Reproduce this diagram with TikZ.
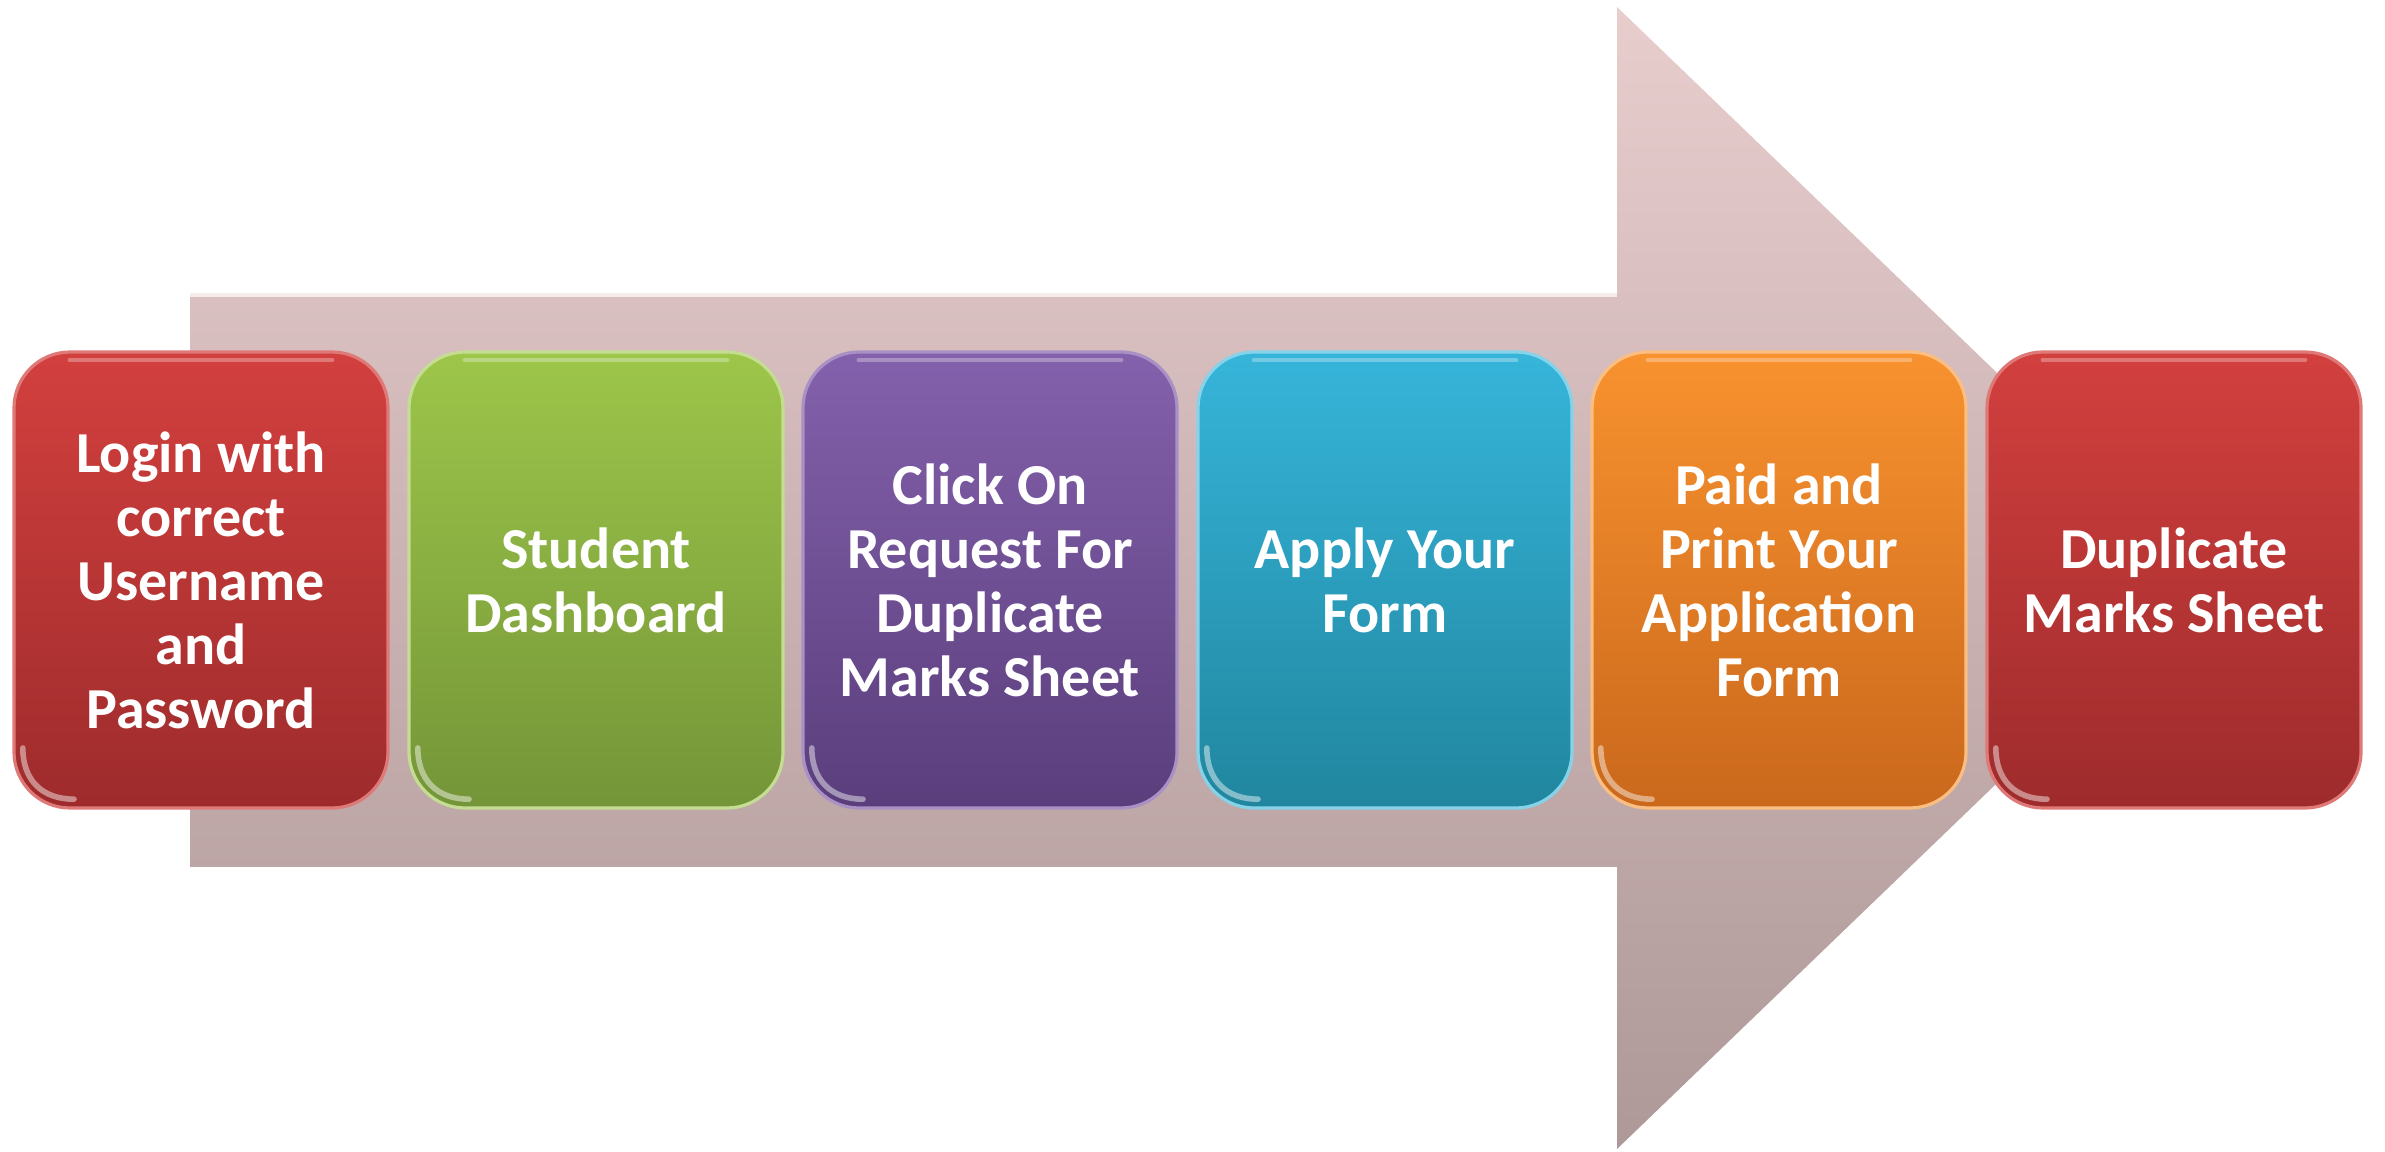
\documentclass[tikz,border=0pt]{standalone}
\usepackage{fontspec}
\setmainfont{Carlito}
\definecolor{arrTop}{HTML}{E8CDCD}
\definecolor{arrBot}{HTML}{AE9898}
\definecolor{redT}{HTML}{D2403E}
\definecolor{redB}{HTML}{9E2B2C}
\definecolor{grnT}{HTML}{9DC64A}
\definecolor{grnB}{HTML}{749538}
\definecolor{purT}{HTML}{8461AC}
\definecolor{purB}{HTML}{5A3E7C}
\definecolor{cyaT}{HTML}{36B5DA}
\definecolor{cyaB}{HTML}{21869F}
\definecolor{orgT}{HTML}{F8922F}
\definecolor{orgB}{HTML}{CA681C}
\tikzset{
  stepbox/.style={rounded corners=14pt, minimum width=93.5pt, minimum height=114pt,
    align=center, text=white, font=\fontsize{14.5}{16}\selectfont\bfseries,
    line width=0.8pt, inner sep=0pt,
    path picture={
      \draw[white, opacity=0.45, line width=1.4pt, line cap=round]
        ([xshift=2.2pt,yshift=15pt]path picture bounding box.south west)
        .. controls ([xshift=2.2pt,yshift=7pt]path picture bounding box.south west)
        and ([xshift=7pt,yshift=2.2pt]path picture bounding box.south west)
        .. ([xshift=15pt,yshift=2.2pt]path picture bounding box.south west);
      \draw[white, opacity=0.3, line width=1.2pt, line cap=round]
        ([xshift=14pt,yshift=-2pt]path picture bounding box.north west)
        -- ([xshift=-14pt,yshift=-2pt]path picture bounding box.north east);
    }},
  redbox/.style={stepbox, top color=redT, bottom color=redB, draw=redT!70!white},
  grnbox/.style={stepbox, top color=grnT, bottom color=grnB, draw=grnT!60!white},
  purbox/.style={stepbox, top color=purT, bottom color=purB, draw=purT!70!white},
  cyabox/.style={stepbox, top color=cyaT, bottom color=cyaB, draw=cyaT!60!white},
  orgbox/.style={stepbox, top color=orgT, bottom color=orgB, draw=orgT!60!white},
}
\begin{document}
\begin{tikzpicture}[x=0.25pt, y=-0.25pt]
\useasboundingbox (0,0) rectangle (2385,1152);
% big arrow
\shade[top color=arrTop, bottom color=arrBot]
  (190,294) -- (1617,294) -- (1617,7) -- (2210,578) -- (1617,1149)
  -- (1617,867) -- (190,867) -- cycle;
\draw[white!60!arrTop, line width=1.2pt] (190,295) -- (1617,295);
% steps
\node[redbox] (s1) at (201,580) {Login with\\correct\\Username\\and\\Password};
\node[grnbox] (s2) at (596,580) {Student\\Dashboard};
\node[purbox] (s3) at (990,580) {Click On\\Request For\\Duplicate\\Marks Sheet};
\node[cyabox] (s4) at (1385,580) {Apply Your\\Form};
\node[orgbox] (s5) at (1779,580) {Paid and\\Print Your\\Application\\Form};
\node[redbox] (s6) at (2174,580) {Duplicate\\Marks Sheet};
\end{tikzpicture}
\end{document}
